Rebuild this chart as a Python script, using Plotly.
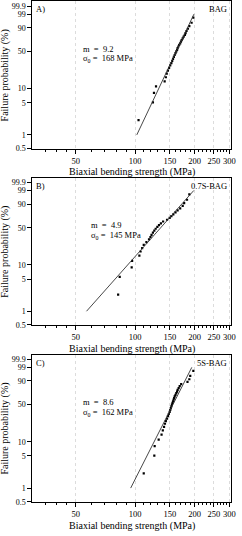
import numpy as np
import plotly.graph_objects as go

# ---------------- data ----------------
panel_labels = ["A)", "B)", "C)"]
sample_names = ["BAG", "0.7S-BAG", "5S-BAG"]
weibull_m = [9.2, 4.9, 8.6]
sigma_0 = [168, 145, 162]

strength_A = [104, 123, 124.5, 127.5, 141, 143, 144.5, 146.5, 148.5, 150.5, 152.5,
              154, 155.5, 157, 158.5, 160, 161.5, 163, 164, 165.5, 167, 169,
              170.5, 172, 174, 176, 178.5, 180, 182, 185, 188, 193, 197]
prob_A = [2.1, 5.1, 8.1, 11.1, 14.1, 17.1, 20.1, 23.1, 26.0, 29.0, 32.0, 35.0, 38.0,
          41.0, 44.0, 47.0, 50.0, 53.0, 56.0, 59.0, 62.0, 65.0, 68.0, 71.0, 74.0,
          76.9, 79.9, 82.9, 85.9, 88.9, 91.9, 94.9, 97.9]

strength_B = [82, 83.5, 96, 96.5, 105, 106.5, 108.5, 110.5, 114, 117.5, 119.5, 121,
              123, 125, 127, 129.5, 132, 135, 138.5, 145, 149.5, 152.5, 156, 160,
              164, 169, 174, 177, 183, 188]
prob_B = [2.3, 5.6, 8.9, 12.2, 15.5, 18.8, 22.0, 25.3, 28.6, 31.9, 35.2, 38.5, 41.8,
          45.1, 48.4, 51.6, 54.9, 58.2, 61.5, 64.8, 68.1, 71.4, 74.7, 78.0, 81.3,
          84.5, 87.8, 91.1, 94.4, 97.7]

strength_C = [110.5, 125, 125.5, 131.5, 136, 138, 140, 141.5, 143, 145, 146.5, 148,
              149.5, 150.5, 151.5, 152.5, 153.5, 154.5, 155.5, 156.5, 157.5, 158.5,
              160, 161.5, 163, 164, 166, 168, 171, 184, 188, 190, 197]
prob_C = prob_A

fit_prob_range = [1, 99]

y_tick_vals = [0.5, 1, 5, 10, 50, 90, 99, 99.9]
y_tick_text = ["0.5", "1", "5", "10", "50", "90", "99", "99.9"]
x_major = [50, 100, 150, 200, 250, 300]
x_major_text = ["50", "100", "150", "200", "250", "300"]
x_minor = [35, 40, 45, 60, 70, 80, 90] + list(range(110, 300, 10))

strengths = [strength_A, strength_B, strength_C]
probs = [prob_A, prob_B, prob_C]


def wb(p):
    p = np.asarray(p, dtype=float) / 100.0
    return np.log(-np.log(1.0 - p))


# ---------------- layout geometry ----------------
W, H = 242, 536
FONT = "Liberation Serif, Times New Roman, serif"
x_dom = [33 / W, 236 / W]
panels_px = [(1.5, 150.0), (179.5, 328.0), (358.0, 506.5)]
y_lo = float(wb(0.5))
y_hi = 2.17
x_range = [np.log10(30.15), np.log10(306)]

fig = go.Figure()
annotations = []

for k in range(3):
    xa = "x" if k == 0 else f"x{k+1}"
    ya = "y" if k == 0 else f"y{k+1}"
    # data points
    fig.add_trace(go.Scatter(
        x=strengths[k], y=wb(probs[k]), mode="markers", xaxis=xa, yaxis=ya,
        marker=dict(symbol="square", size=2.2, color="black", line=dict(width=0)),
        showlegend=False, hoverinfo="skip"))
    # fitted Weibull line
    fy = wb(fit_prob_range)
    fx = sigma_0[k] * np.exp(fy / weibull_m[k])
    fig.add_trace(go.Scatter(
        x=fx, y=fy, mode="lines", xaxis=xa, yaxis=ya,
        line=dict(color="#333333", width=0.9), showlegend=False, hoverinfo="skip"))

    top_px, bot_px = panels_px[k]
    dom = [1 - bot_px / H, 1 - top_px / H]
    xkey = "xaxis" if k == 0 else f"xaxis{k+1}"
    ykey = "yaxis" if k == 0 else f"yaxis{k+1}"
    fig.update_layout({
        xkey: dict(
            domain=x_dom, anchor=ya, type="log", range=x_range,
            tickmode="array", tickvals=x_major, ticktext=x_major_text,
            ticks="outside", ticklen=4, tickwidth=1, tickcolor="black",
            showline=True, linecolor="black", linewidth=1, mirror=True,
            showgrid=True, gridcolor="#dcdcdc", gridwidth=1, griddash="dot",
            zeroline=False,
            tickfont=dict(family=FONT, size=8.5, color="black"),
            minor=dict(tickmode="array", tickvals=x_minor, ticks="outside",
                       ticklen=2, tickwidth=1, tickcolor="black", showgrid=False),
        ),
        ykey: dict(
            domain=dom, anchor=xa, range=[y_lo, y_hi],
            tickmode="array", tickvals=list(wb(y_tick_vals)), ticktext=y_tick_text,
            ticks="outside", ticklen=4, tickwidth=1, tickcolor="black",
            showline=True, linecolor="black", linewidth=1, mirror=True,
            showgrid=False, zeroline=False,
            tickfont=dict(family=FONT, size=8, color="black"),
        ),
    })

    # panel label & sample name
    annotations.append(dict(text=panel_labels[k], xref="paper", yref="paper",
                            x=35 / W, y=1 - (top_px + 1) / H, xanchor="left",
                            yanchor="top", showarrow=False,
                            font=dict(family=FONT, size=8.5, color="black")))
    annotations.append(dict(text=sample_names[k], xref="paper", yref="paper",
                            x=234 / W, y=1 - (top_px + 1) / H, xanchor="right",
                            yanchor="top", showarrow=False,
                            font=dict(family=FONT, size=8.5, color="black")))
    # parameters text
    tx = 91 if k == 1 else 83
    annotations.append(dict(text=f"m\u00a0 =\u00a0 {weibull_m[k]}", xref="paper",
                            yref="paper", x=tx / W, y=1 - (top_px + 47.5) / H,
                            xanchor="left", yanchor="middle", showarrow=False,
                            font=dict(family=FONT, size=8.5, color="black")))
    annotations.append(dict(text=f"σ<sub>0</sub> =\u00a0 {sigma_0[k]} MPa",
                            xref="paper", yref="paper", x=tx / W,
                            y=1 - (top_px + 58) / H, xanchor="left",
                            yanchor="middle", showarrow=False,
                            font=dict(family=FONT, size=8.5, color="black")))
    # axis titles
    annotations.append(dict(text="Biaxial bending strength (MPa)", xref="paper",
                            yref="paper", x=(x_dom[0] + x_dom[1]) / 2,
                            y=1 - (bot_px + 24) / H, xanchor="center",
                            yanchor="middle", showarrow=False,
                            font=dict(family=FONT, size=10, color="black")))
    annotations.append(dict(text="Failure probability (%)", xref="paper",
                            yref="paper", x=5.5 / W,
                            y=1 - ((top_px + bot_px) / 2) / H, xanchor="center",
                            yanchor="middle", textangle=-90, showarrow=False,
                            font=dict(family=FONT, size=10, color="black")))

fig.update_layout(
    width=W, height=H, margin=dict(l=0, r=0, t=0, b=0),
    paper_bgcolor="white", plot_bgcolor="white",
    font=dict(family=FONT, color="black"),
    annotations=annotations, showlegend=False, hovermode=False,
)

fig.write_html("out.html",
               config={"displayModeBar": False, "staticPlot": True},
               post_script="document.body.style.margin='0';"
                           "document.body.style.overflow='hidden';")
